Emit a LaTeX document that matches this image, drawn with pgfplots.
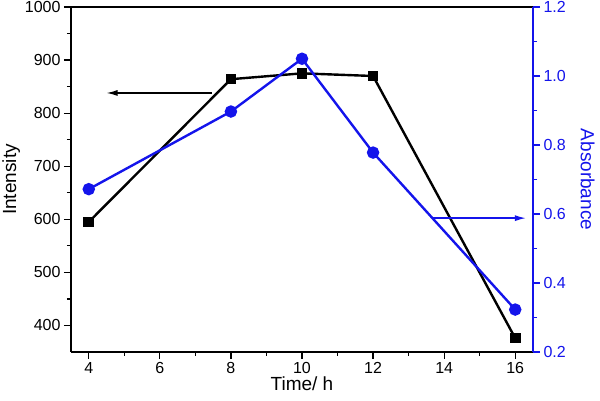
\documentclass[border=0pt]{standalone}
\usepackage{pgfplots}
\pgfplotsset{compat=1.18}
\usetikzlibrary{arrows.meta}
\usepackage{fontspec}
\setmainfont{Liberation Sans}
\definecolor{absblue}{RGB}{20,20,235}

\pgfplotstableread{
t  inten
4  595
8  864
10 875
12 870
16 376
}\intensity

\pgfplotstableread{
t  absorb
4  0.672
8  0.897
10 1.050
12 0.778
16 0.323
}\absorb

\pgfplotsset{
  common/.style={
    scale only axis, width=462pt, height=345pt,
    xmin=3.5, xmax=16.5,
    tick align=outside,
    major tick length=7pt, minor tick length=4pt,
    every tick/.style={line width=1.2pt},
    minor tick num=1,
    tick label style={font=\fontsize{16}{18}\selectfont},
    label style={font=\fontsize{19}{21}\selectfont},
    /pgf/number format/assume math mode=true,
  }
}

\begin{document}
\begin{tikzpicture}
\begin{axis}[common, name=ax,
  ymin=350, ymax=1000,
  axis x line*=box, axis y line*=left,
  xtick pos=bottom,
  xtick={4,6,...,16},
  ytick={400,500,...,1000},
  axis line style={line width=1.4pt, black},
  yticklabel style={/pgf/number format/1000 sep={}},
  xlabel={Time/ h}, ylabel={Intensity},
  xlabel style={yshift=4pt},
  ylabel style={yshift=-2pt},
]
\addplot[black, line width=2.4pt, mark=square*, mark size=4.1pt] table[x=t,y=inten] {\intensity};
\draw[-{Latex[length=11pt,width=6pt]}, line width=1.3pt] (axis cs:7.47,838) -- (axis cs:4.5,838);
\end{axis}
\begin{axis}[common,
  ymin=0.2, ymax=1.2,
  axis x line=none, axis y line*=right,
  ytick={0.2,0.4,...,1.2},
  axis line style={line width=1.4pt, absblue},
  every tick/.style={line width=1.2pt, absblue},
  yticklabel style={absblue, /pgf/number format/fixed, /pgf/number format/fixed zerofill, /pgf/number format/precision=1},
  ylabel={Absorbance},
  ylabel style={absblue, rotate=180, yshift=8pt},
]
\addplot[absblue, line width=2.4pt, mark=*, mark size=5pt] table[x=t,y=absorb] {\absorb};
\draw[-{Latex[length=11pt,width=6pt]}, absblue, line width=1.3pt] (axis cs:13.66,0.588) -- (axis cs:16.3,0.588);
\end{axis}
\pgfresetboundingbox
\path[use as bounding box] ([shift={(-71pt,-49pt)}]ax.south west) rectangle ([shift={(67pt,7pt)}]ax.north east);
\end{tikzpicture}
\end{document}
